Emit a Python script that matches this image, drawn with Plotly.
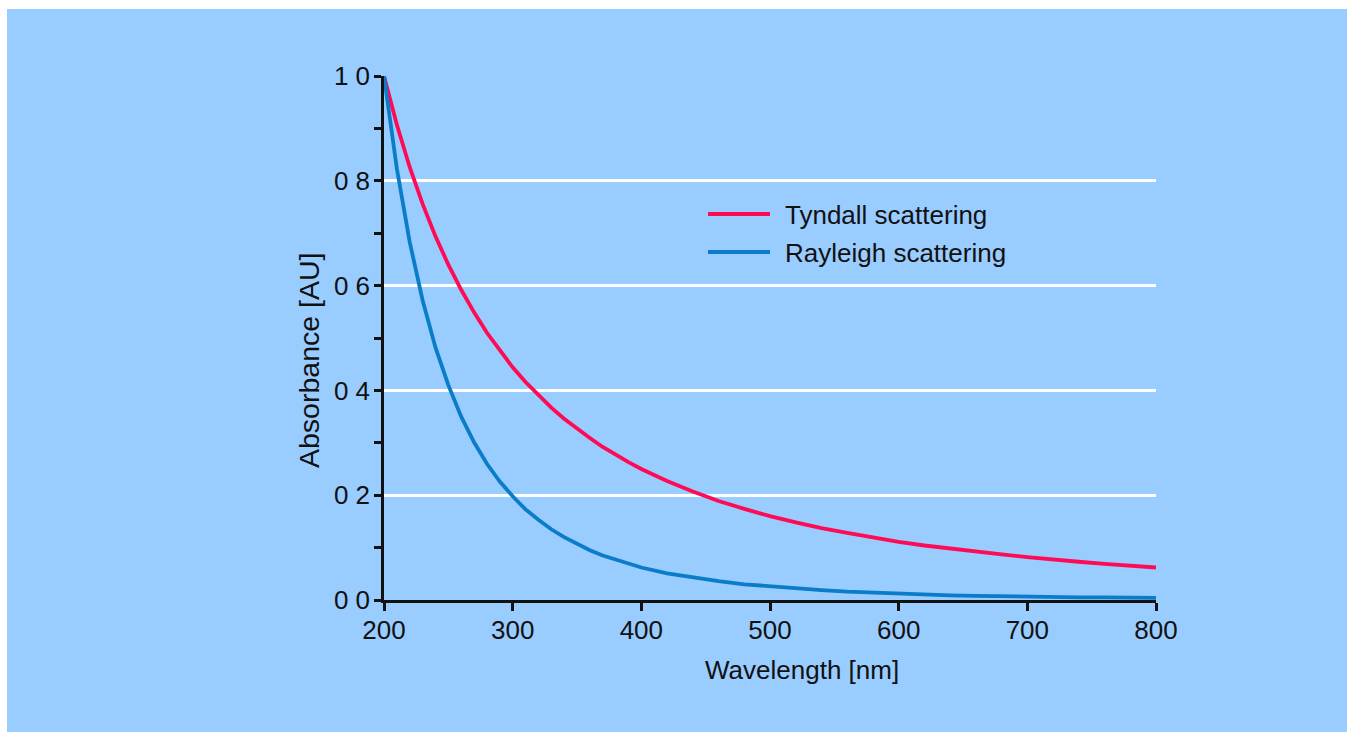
import plotly.graph_objects as go

# Wavelength grid (nm) and normalised absorbance of the two scattering curves
wavelength = [200, 210, 220, 230, 240, 250, 260, 270, 280, 290, 300,
              310, 320, 330, 340, 350, 360, 370, 380, 390, 400,
              420, 440, 460, 480, 500, 520, 540, 560, 580, 600,
              620, 640, 660, 680, 700, 720, 740, 760, 780, 800]

tyndall = [1.000, 0.907, 0.826, 0.756, 0.694, 0.640, 0.592, 0.549, 0.510, 0.476, 0.444,
           0.416, 0.391, 0.367, 0.346, 0.327, 0.309, 0.292, 0.277, 0.263, 0.250,
           0.227, 0.207, 0.189, 0.174, 0.160, 0.148, 0.137, 0.128, 0.119, 0.111,
           0.104, 0.098, 0.092, 0.087, 0.082, 0.077, 0.073, 0.069, 0.066, 0.062]

rayleigh = [1.000, 0.823, 0.683, 0.572, 0.482, 0.410, 0.350, 0.301, 0.260, 0.226, 0.198,
            0.173, 0.153, 0.135, 0.120, 0.107, 0.095, 0.085, 0.077, 0.069, 0.062,
            0.051, 0.043, 0.036, 0.030, 0.026, 0.022, 0.019, 0.016, 0.014, 0.012,
            0.011, 0.009, 0.008, 0.007, 0.006, 0.006, 0.005, 0.005, 0.004, 0.004]

series_names = ["Tyndall scattering", "Rayleigh scattering"]
series_colors = ["#ff0a55", "#0a7cc8"]

x_ticks = [200, 300, 400, 500, 600, 700, 800]
y_ticks = [0.0, 0.2, 0.4, 0.6, 0.8, 1.0]
y_tick_text = ["0 0", "0 2", "0 4", "0 6", "0 8", "1 0"]

x_title = "Wavelength [nm]"
y_title = "Absorbance [AU]"

BG = "#99ccff"
INK = "#111111"
TEXT_FONT = "Liberation Sans, Arial, sans-serif"
NUM_FONT = "Liberation Sans Narrow, Arial Narrow, Liberation Sans, sans-serif"

W, H = 1347, 732
L, R, T, B = 384, 191, 76, 132

fig = go.Figure()
for name, ys, col in zip(series_names, [tyndall, rayleigh], series_colors):
    fig.add_trace(go.Scatter(x=wavelength, y=ys, mode="lines", name=name,
                             line=dict(color=col, width=3.8), showlegend=False))


def px(fx):
    return (fx - L) / (W - L - R)


def py(fy):
    return 1 - (fy - T) / (H - T - B)


# Blue panel with a thin white edge along the top and left
fig.add_shape(type="rect", xref="paper", yref="paper", layer="below",
              x0=px(7), x1=px(W + 2), y0=py(H + 2), y1=py(9),
              fillcolor=BG, line=dict(width=0))

# Hand-placed key with long line samples
key_rows = [214, 252]
for name, col, fy in zip(series_names, series_colors, key_rows):
    fig.add_shape(type="line", xref="paper", yref="paper",
                  x0=px(708), x1=px(770), y0=py(fy), y1=py(fy),
                  line=dict(color=col, width=4))
    fig.add_annotation(xref="paper", yref="paper", x=px(783), y=py(fy + 1),
                       text=name, showarrow=False, xanchor="left", yanchor="middle",
                       font=dict(family=TEXT_FONT, size=26, color=INK))

fig.add_annotation(xref="paper", yref="paper", x=px(802), y=py(670),
                   text=x_title, showarrow=False, xanchor="center", yanchor="middle",
                   font=dict(family=TEXT_FONT, size=26, color=INK))
fig.add_annotation(xref="paper", yref="paper", x=px(309), y=py(361),
                   text=y_title, showarrow=False, xanchor="center", yanchor="middle",
                   textangle=-90,
                   font=dict(family=TEXT_FONT, size=28.5, color=INK))

fig.update_xaxes(range=[200, 800], tickvals=x_ticks, ticks="outside", ticklen=8,
                 tickwidth=2.5, tickcolor=INK, showline=True, linecolor=INK,
                 linewidth=2.5, showgrid=False, zeroline=False, ticklabelstandoff=-3,
                 tickfont=dict(family=NUM_FONT, size=26, color=INK))
fig.update_yaxes(range=[0, 1.0], tickvals=y_ticks, ticktext=y_tick_text,
                 ticks="outside", ticklen=7, tickwidth=2.5, tickcolor=INK,
                 showline=True, linecolor=INK, linewidth=2.5, ticklabelstandoff=-1,
                 showgrid=True, gridcolor="white", gridwidth=2.5, zeroline=False,
                 minor=dict(dtick=0.1, ticks="outside", ticklen=7, tickwidth=2.5,
                            tickcolor=INK, showgrid=False),
                 tickfont=dict(family=NUM_FONT, size=26, color=INK))

fig.update_layout(width=W, height=H, margin=dict(l=L, r=R, t=T, b=B),
                  paper_bgcolor="white", plot_bgcolor=BG, showlegend=False)

fig.write_html("out.html")
